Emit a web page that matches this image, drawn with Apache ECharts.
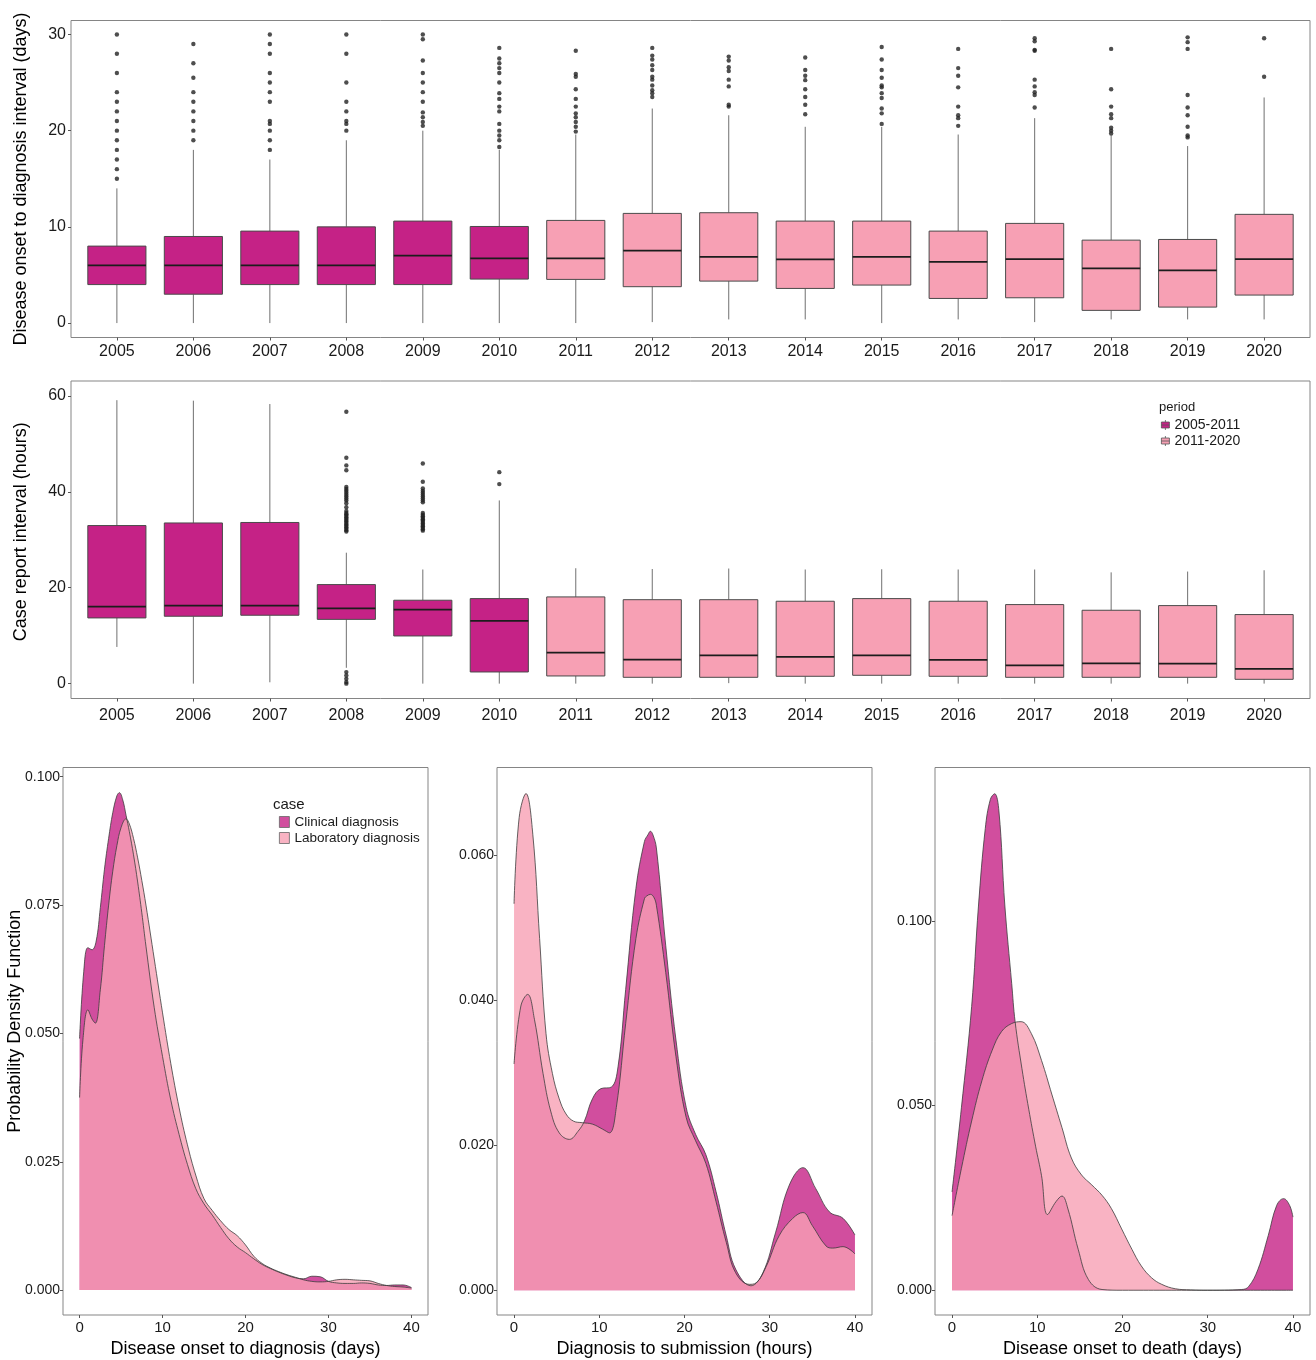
<!DOCTYPE html>
<html>
<head>
<meta charset="utf-8">
<script src="https://cdn.jsdelivr.net/npm/echarts@6/dist/echarts.min.js"></script>
<style>
  html, body { margin: 0; padding: 0; background: #ffffff; }
  #chart { width: 1316px; height: 1360px; }
</style>
</head>
<body>
<div id="chart"></div>
<script>
// ---------- categories ----------
const years = ['2005','2006','2007','2008','2009','2010','2011','2012','2013','2014','2015','2016','2017','2018','2019','2020'];
const periods = ['2005-2011', '2011-2020'];
const yearPeriod = [0,0,0,0,0,0,1,1,1,1,1,1,1,1,1,1];

// ---------- disease onset to diagnosis interval (days) ----------
const onsetLow  = [0, 0, 0, 0, 0, 0, 0, 0.1, 0.38, 0.38, 0, 0.38, 0.1, 0.38, 0.38, 0.38];
const onsetQ1   = [4, 3, 4, 4, 4, 4.57, 4.54, 3.78, 4.36, 3.6, 3.95, 2.56, 2.63, 1.32, 1.66, 2.91];
const onsetMed  = [6, 6, 6, 6, 7, 6.72, 6.72, 7.52, 6.89, 6.62, 6.89, 6.37, 6.65, 5.68, 5.47, 6.65];
const onsetQ3   = [8, 9, 9.56, 10, 10.6, 10.04, 10.67, 11.4, 11.47, 10.6, 10.6, 9.56, 10.36, 8.62, 8.69, 11.3];
const onsetHigh = [14, 18, 17, 19, 20, 18, 19.6, 22.3, 21.6, 20.4, 20.4, 19.6, 21.3, 19.5, 18.4, 23.45];
const onsetOutliers = [
  [15, 16, 17, 18, 19, 20, 21, 22, 23, 24, 26, 28, 30],
  [19, 20, 21, 22, 23, 24, 25.5, 27, 29],
  [18, 19, 20, 20.7, 21, 23, 24, 25, 26, 28, 29, 30],
  [20, 20.7, 21, 22, 23, 25, 28, 30],
  [20.5, 20.9, 21.4, 21.9, 23, 24, 25, 26, 27.3, 29.5, 30],
  [18.3, 19, 19.5, 20, 20.7, 22, 22.5, 23.3, 23.9, 25, 26, 26.5, 27, 27.5, 28.6],
  [19.9, 20.4, 20.9, 21.4, 21.8, 22.5, 23.3, 24.3, 25.6, 25.9, 28.3],
  [23.5, 23.9, 24.2, 24.7, 25.3, 25.6, 26.3, 26.8, 27.4, 27.8, 28.6],
  [22.5, 22.7, 24.6, 25.3, 26.2, 26.6, 27.3, 27.7],
  [21.7, 22.7, 23.5, 24.3, 25.25, 25.7, 26.3, 27.6],
  [20.7, 21.8, 22.3, 23.4, 23.9, 24.5, 24.7, 25.5, 26.3, 27.4, 28.7],
  [20.5, 21.3, 21.6, 22.5, 24.5, 25.7, 26.5, 28.5],
  [22.4, 23.7, 24.0, 24.6, 25.3, 28.3, 28.4, 29.3, 29.6],
  [19.7, 20, 20.3, 21.3, 21.7, 22.5, 24.3, 28.5],
  [19.3, 19.5, 20.4, 21.6, 22.4, 23.7, 28.5, 29.2, 29.7],
  [25.6, 29.6]
];
const onsetTicks = [0, 10, 20, 30];

// ---------- case report interval (hours) ----------
const reportLow  = [7.65, 0, 0.28, 3.3, 0, 0, 0, 0, 0.1, 0, 0, 0, 0, 0, 0, 0];
const reportQ1   = [13.7, 14.05, 14.26, 13.4, 9.94, 2.43, 1.6, 1.32, 1.32, 1.53, 1.74, 1.53, 1.32, 1.32, 1.32, 0.9];
const reportMed  = [16.06, 16.27, 16.27, 15.7, 15.44, 13.07, 6.47, 5.0, 5.91, 5.56, 5.91, 4.94, 3.82, 4.24, 4.17, 3.06];
const reportQ3   = [32.96, 33.5, 33.6, 20.65, 17.39, 17.73, 18.08, 17.5, 17.5, 17.18, 17.73, 17.18, 16.48, 15.3, 16.27, 14.4];
const reportHigh = [59.1, 59.0, 58.3, 27.3, 23.8, 38.2, 24.06, 23.9, 24.0, 23.8, 23.85, 23.8, 23.8, 23.2, 23.37, 23.64];
const reportOutliers = [
  [], [], [],
  [0, 0.35, 1.0, 1.7, 2.4, 31.7, 32.0, 32.3, 32.6, 32.9, 33.2, 33.5, 33.8, 34.1, 34.4, 34.7, 35.0, 35.3, 35.6,
   36.0, 36.8, 37.6, 38.2, 38.6, 39.0, 39.4, 39.8, 40.2, 40.6, 41.0, 44.5, 45.5, 47.1, 56.7],
  [31.9, 32.2, 32.5, 32.8, 33.1, 33.4, 33.7, 34.0, 34.3, 34.6, 34.9, 35.2, 35.6, 37.8, 38.2, 38.6, 39.0, 39.4,
   39.8, 40.2, 40.7, 42.1, 45.9],
  [41.6, 44.1],
  [], [], [], [], [], [], [], [], [], []
];
const reportTicks = [0, 20, 40, 60];

// ---------- density curves: [value, density] ----------
const cases = ['Clinical diagnosis', 'Laboratory diagnosis'];

const diagClinical = [[0,0.049],[0.5,0.062],[1,0.0667],[1.5,0.0663],[2,0.068],[2.5,0.0745],[3,0.082],[3.5,0.088],
  [4,0.093],[4.5,0.0963],[4.8,0.0969],[5.2,0.0955],[5.6,0.0925],[6,0.0893],[6.5,0.0848],[7,0.0795],[7.5,0.0735],
  [8,0.067],[9,0.055],[10,0.0455],[11,0.037],[12,0.0303],[13,0.0245],[14,0.0198],[15,0.0168],[16,0.0146],
  [17,0.0122],[18,0.01],[19,0.0084],[20,0.0073],[21,0.0061],[22,0.005],[23,0.0042],[24,0.0035],[25,0.0029],
  [26,0.0024],[27,0.0022],[28,0.0027],[29,0.0026],[30,0.0017],[31,0.0014],[32,0.0013],[33,0.0013],[34,0.0014],
  [35,0.0013],[36,0.001],[37,0.0009],[38,0.001],[39,0.001],[40,0.0005]];
const diagLab = [[0,0.0375],[0.4,0.0487],[1,0.0546],[1.5,0.0528],[1.9,0.052],[2.5,0.0585],[3,0.0671],[3.5,0.075],
  [4,0.0816],[4.5,0.0866],[5,0.0901],[5.6,0.0918],[6,0.0908],[6.5,0.088],[7,0.0842],[7.5,0.0798],[8,0.075],
  [9,0.0645],[10,0.054],[11,0.0441],[12,0.0355],[13,0.0283],[14,0.0224],[15,0.0178],[16,0.0155],[17,0.0135],
  [18,0.0118],[19,0.0106],[20,0.0088],[21,0.0066],[22,0.0052],[23,0.0043],[24,0.0036],[25,0.003],[26,0.0025],
  [27,0.002],[28,0.0017],[29,0.0016],[30,0.0017],[31,0.002],[32,0.0021],[33,0.002],[34,0.0019],[35,0.0018],
  [36,0.0013],[37,0.0009],[38,0.0007],[39,0.0006],[40,0.0004]];
const diagTicks = [0, 0.025, 0.05, 0.075, 0.1];

const submitClinical = [[0,0.0312],[0.8,0.0392],[1.6,0.0408],[2.4,0.0373],[3.4,0.0299],[4.3,0.0247],[5.3,0.0217],
  [6.5,0.0208],[7.5,0.0219],[8.25,0.0233],[9.2,0.0264],[10.2,0.0278],[11.4,0.028],[12.2,0.0308],[13.1,0.0415],
  [14.3,0.0554],[15.3,0.0619],[15.7,0.0628],[16,0.0633],[16.3,0.0628],[16.7,0.061],[17.8,0.0475],[19,0.0345],
  [20.2,0.0252],[21.3,0.0215],[22.5,0.0187],[23.7,0.0136],[24.9,0.0075],[26,0.0029],[27.8,0.0006],[29.2,0.0024],
  [30.7,0.008],[32.3,0.0145],[33.9,0.0169],[35.4,0.014],[37,0.0108],[38.6,0.0099],[40,0.0076]];
const submitLab = [[0,0.0533],[0.6,0.0652],[1.4,0.0685],[2.2,0.0629],[3,0.0485],[3.75,0.0354],[4.5,0.0299],
  [5.3,0.0264],[6.1,0.0243],[7,0.0233],[8,0.0231],[9.2,0.0229],[10.4,0.0222],[11.2,0.0217],[12,0.0252],
  [13.1,0.0368],[14.3,0.0485],[15.3,0.054],[15.6,0.0544],[16,0.0546],[16.4,0.0542],[16.7,0.0531],[17.8,0.0438],
  [19,0.0322],[20.2,0.0238],[21.3,0.0206],[22.5,0.0175],[23.7,0.0122],[24.9,0.0066],[26,0.0024],[27.6,0.0008],
  [28.4,0.001],[29.6,0.0033],[31.1,0.0075],[32.7,0.0099],[33.9,0.0107],[35,0.0089],[36.6,0.0061],[37.4,0.0058],
  [38.6,0.006],[40,0.005]];
const submitTicks = [0, 0.02, 0.04, 0.06];

const deathClinical = [[0,0.0266],[1.1,0.0494],[2.3,0.0768],[3.1,0.104],[3.9,0.125],[4.5,0.1329],[5,0.1344],
  [5.5,0.1297],[6.2,0.104],[7,0.083],[7.4,0.0727],[8.2,0.06],[9,0.049],[9.8,0.039],[10.5,0.031],[11.2,0.0205],
  [12.2,0.024],[12.9,0.0255],[13.6,0.022],[14.8,0.0111],[16,0.0029],[17.6,0.0002],[20,0],[25,0],[30,0],
  [34,0.0002],[34.8,0.001],[35.9,0.0057],[37.1,0.0148],[38.1,0.023],[38.9,0.0248],[39.6,0.023],[40,0.0198]];
const deathLab = [[0,0.0202],[1.1,0.033],[2.3,0.0458],[3.5,0.0567],[4.7,0.0649],[5.8,0.07],[7,0.0722],[8.1,0.0727],
  [9.3,0.0695],[10.5,0.0622],[11.7,0.0531],[12.9,0.044],[14,0.0358],[15.2,0.0312],[16.4,0.0285],[17.6,0.0257],
  [18.7,0.0221],[19.9,0.0166],[21.1,0.0111],[22.2,0.0066],[23.4,0.0034],[24.6,0.0016],[26.2,0.0004],[28,0.0001],
  [30,0],[35,0],[40,0]];
const deathTicks = [0, 0.05, 0.1];

const densityXTicks = [0, 10, 20, 30, 40];

// ---------- styling ----------
const FONT = '"Liberation Sans", Arial, Helvetica, sans-serif';
const DARK = '#c52286';
const PINK = '#f7a0b4';
const DARK_FILL = 'rgba(197,34,134,0.8)';
const PINK_FILL = 'rgba(247,160,180,0.8)';
const FRAME = '#858585';
const TEXT = '#1a1a1a';
const periodColors = [DARK, PINK];
// small box-and-whisker key for the period legend
const BOX_ICON = 'path://M4 0L4 2M0 2L8 2L8 8L0 8ZM0 5L8 5M4 8L4 10';

const yearPos = years.map((_, i) => i + 1);

function frameGrid(left, top, width, height) {
  return { left, top, width, height, show: true, borderColor: FRAME, borderWidth: 1,
           backgroundColor: 'transparent', containLabel: false, outerBoundsMode: 'none' };
}

function yearAxis(gridIndex, margin) {
  return {
    type: 'value', gridIndex, min: 0.4, max: 16.6,
    axisLine: { show: false, onZero: false },
    splitLine: { show: false },
    axisTick: { show: true, customValues: yearPos, length: 3, lineStyle: { color: '#555', width: 1 } },
    axisLabel: { customValues: yearPos, formatter: v => years[Math.round(v) - 1],
                 fontSize: 16, color: TEXT, fontFamily: FONT, margin }
  };
}

function valueAxis(gridIndex, min, max, ticks, fontSize, fmt, labelMargin, name, nameGap, shift) {
  const ax = {
    type: 'value', gridIndex, min, max,
    axisLine: { show: false, onZero: false },
    splitLine: { show: false },
    axisTick: { show: true, customValues: ticks, length: 3, lineStyle: { color: '#555', width: 1 } },
    axisLabel: { customValues: ticks, fontSize, color: TEXT, fontFamily: FONT, margin: labelMargin,
                 formatter: fmt || (v => String(v)) }
  };
  if (name) {
    Object.assign(ax, { name, nameLocation: 'middle', nameGap, nameRotate: 90, nameMoveOverlap: false,
      nameTextStyle: { fontSize: 18, color: '#000', fontFamily: FONT, padding: [0, 0, 0, shift || 0] } });
  }
  return ax;
}

function densityXAxis(gridIndex, name) {
  return {
    type: 'value', gridIndex, min: -2, max: 42,
    axisLine: { show: false, onZero: false },
    splitLine: { show: false },
    axisTick: { show: true, customValues: densityXTicks, length: 3, lineStyle: { color: '#555', width: 1 } },
    axisLabel: { customValues: densityXTicks, fontSize: 15, color: TEXT, fontFamily: FONT, margin: 5 },
    name, nameLocation: 'middle', nameGap: 25,
    nameTextStyle: { fontSize: 18, color: '#000', fontFamily: FONT }
  };
}

// Box + whiskers + median line, drawn through the axis scales
function renderBox(params, api) {
  const xv = api.value(0);
  const lo = api.coord([xv, api.value(1)]);
  const q1 = api.coord([xv, api.value(2)]);
  const md = api.coord([xv, api.value(3)]);
  const q3 = api.coord([xv, api.value(4)]);
  const hi = api.coord([xv, api.value(5)]);
  const half = api.size([1, 0])[0] * 0.38;
  const fill = api.visual('color');
  return {
    type: 'group',
    children: [
      { type: 'line', shape: { x1: lo[0], y1: lo[1], x2: q1[0], y2: q1[1] }, style: { stroke: '#707070', lineWidth: 1 } },
      { type: 'line', shape: { x1: q3[0], y1: q3[1], x2: hi[0], y2: hi[1] }, style: { stroke: '#707070', lineWidth: 1 } },
      { type: 'rect', shape: { x: q1[0] - half, y: q3[1], width: half * 2, height: q1[1] - q3[1] },
        style: { fill, stroke: '#4a4a4a', lineWidth: 1 } },
      { type: 'line', shape: { x1: md[0] - half, y1: md[1], x2: md[0] + half, y2: md[1] },
        style: { stroke: '#1c1c1c', lineWidth: 1.8 } }
    ]
  };
}

function boxSeries(axisIndex, low, q1, med, q3, high, outliers) {
  const out = [];
  periods.forEach((p, pi) => {
    const data = [];
    years.forEach((y, i) => {
      if (yearPeriod[i] === pi) data.push([i + 1, low[i], q1[i], med[i], q3[i], high[i]]);
    });
    out.push({
      type: 'custom', name: p, xAxisIndex: axisIndex, yAxisIndex: axisIndex,
      itemStyle: { color: periodColors[pi], borderColor: '#4a4a4a', borderWidth: 1 },
      renderItem: renderBox, encode: { x: 0, y: [1, 2, 3, 4, 5] }, data, silent: true
    });
  });
  const pts = [];
  outliers.forEach((list, i) => list.forEach(v => pts.push([i + 1, v])));
  out.push({
    type: 'scatter', xAxisIndex: axisIndex, yAxisIndex: axisIndex, data: pts,
    symbol: 'circle', symbolSize: 4.4, itemStyle: { color: '#222222' }, silent: true, z: 5
  });
  return out;
}

function densitySeries(axisIndex, clinical, lab) {
  const mk = (name, data, fill) => ({
    type: 'line', name, xAxisIndex: axisIndex, yAxisIndex: axisIndex, data,
    smooth: 0.4, showSymbol: false, symbol: 'none', silent: true,
    itemStyle: { color: fill },
    lineStyle: { color: '#3c3c3c', width: 0.8 },
    areaStyle: { color: fill, opacity: 1 }
  });
  return [mk(cases[0], clinical, DARK_FILL), mk(cases[1], lab, PINK_FILL)];
}

const fmt3 = v => v.toFixed(3);

const option = {
  animation: false,
  backgroundColor: '#ffffff',
  textStyle: { fontFamily: FONT },
  grid: [
    frameGrid(71, 20.5, 1239, 317),
    frameGrid(71, 381, 1239, 317.5),
    frameGrid(63, 767.5, 365, 547.5),
    frameGrid(497, 767.5, 375, 547.5),
    frameGrid(935, 767.5, 375, 547.5)
  ],
  xAxis: [
    yearAxis(0, 6),
    yearAxis(1, 9),
    densityXAxis(2, 'Disease onset to diagnosis (days)'),
    densityXAxis(3, 'Diagnosis to submission (hours)'),
    densityXAxis(4, 'Disease onset to death (days)')
  ],
  yAxis: [
    valueAxis(0, -1.5, 31.45, onsetTicks, 16, null, 5, 'Disease onset to diagnosis interval (days)', 41, 0),
    valueAxis(1, -3.1, 63.1, reportTicks, 16, null, 5, 'Case report interval (hours)', 41, 16),
    valueAxis(2, -0.00485, 0.1018, diagTicks, 14, fmt3, 3, 'Probability Density Function', 39, 40),
    valueAxis(3, -0.00343, 0.0721, submitTicks, 14, fmt3, 3),
    valueAxis(4, -0.0067, 0.1415, deathTicks, 14, fmt3, 3)
  ],
  title: [
    { text: 'period', left: 1159, top: 401, padding: 0,
      textStyle: { fontSize: 13, fontWeight: 'normal', color: TEXT, fontFamily: FONT } },
    { text: 'case', left: 273, top: 797, padding: 0,
      textStyle: { fontSize: 15, fontWeight: 'normal', color: TEXT, fontFamily: FONT } }
  ],
  legend: [
    { data: periods.map(p => ({ name: p, icon: BOX_ICON })), orient: 'vertical', left: 1161, top: 418, padding: 0,
      itemWidth: 8, itemHeight: 10, itemGap: 2, selectedMode: false,
      itemStyle: { borderColor: '#555', borderWidth: 0.8 },
      textStyle: { fontSize: 14, color: TEXT, fontFamily: FONT } },
    { data: [{ name: cases[0], icon: 'rect', itemStyle: { color: DARK_FILL } },
             { name: cases[1], icon: 'rect', itemStyle: { color: PINK_FILL } }],
      orient: 'vertical', left: 279, top: 815, padding: 0,
      itemWidth: 10, itemHeight: 11, itemGap: 2, selectedMode: false,
      itemStyle: { borderColor: '#666', borderWidth: 0.8 },
      textStyle: { fontSize: 13.5, color: TEXT, fontFamily: FONT } }
  ],
  series: [].concat(
    boxSeries(0, onsetLow, onsetQ1, onsetMed, onsetQ3, onsetHigh, onsetOutliers),
    boxSeries(1, reportLow, reportQ1, reportMed, reportQ3, reportHigh, reportOutliers),
    densitySeries(2, diagClinical, diagLab),
    densitySeries(3, submitClinical, submitLab),
    densitySeries(4, deathClinical, deathLab)
  )
};

const chart = echarts.init(document.getElementById('chart'), null, { renderer: 'canvas' });
chart.setOption(option);
</script>
</body>
</html>
